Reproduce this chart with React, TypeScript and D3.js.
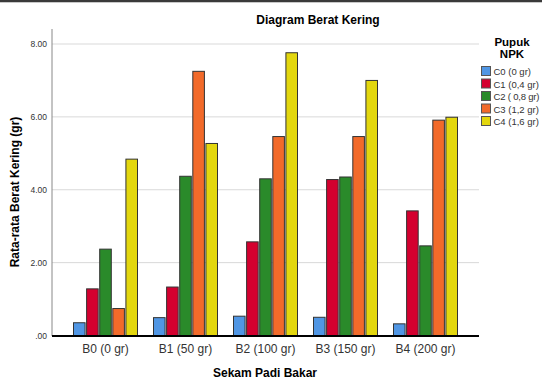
import React from "react";
import * as d3 from "d3";

const categories = ["B0 (0 gr)", "B1 (50 gr)", "B2 (100 gr)", "B3 (150 gr)", "B4 (200 gr)"];
const seriesNames = ["C0 (0 gr)", "C1 (0,4 gr)", "C2 ( 0,8 gr)", "C3 (1,2 gr)", "C4 (1,6 gr)"];
const C0 = [0.35, 0.49, 0.53, 0.5, 0.32];
const C1 = [1.28, 1.33, 2.57, 4.28, 3.42];
const C2 = [2.37, 4.37, 4.3, 4.35, 2.46];
const C3 = [0.74, 7.25, 5.46, 5.46, 5.91];
const C4 = [4.84, 5.27, 7.76, 7.0, 5.99];
const seriesValues = [C0, C1, C2, C3, C4];
const colors = ["#5096e4", "#d4002f", "#2a8a2a", "#f26a2a", "#e3d70e"];
const yTicks = [0, 2, 4, 6, 8];
const tickLabels = [".00", "2.00", "4.00", "6.00", "8.00"];

const W = 542;
const H = 379;
const font = "'Liberation Sans', Arial, sans-serif";

export default function App() {
  const x0 = d3.scaleBand<string>().domain(categories).range([52, 479]).paddingInner(0.1875).paddingOuter(0.2625);
  const x1 = d3.scaleBand<string>().domain(seriesNames).range([0, x0.bandwidth()]).paddingInner(0.04);
  const y = d3.scaleLinear().domain([0, 8]).range([335.5, 44]);

  return (
    <svg width={W} height={H} style={{ position: "absolute", left: 0, top: 0, background: "#fff" }} fontFamily={font}>
      <rect x={0} y={0} width={W} height={H} fill="#fff" />
      <rect x={0} y={0} width={W} height={2} fill="#3a3a3a" />
      <rect x={0} y={2} width={W} height={1} fill="#c8c8c8" />
      <text x={318} y={24} textAnchor="middle" fontSize={12} fontWeight="bold" fill="#000">Diagram Berat Kering</text>
      {yTicks.map((t, i) => (
        <g key={t}>
          {t > 0 && <line x1={52} x2={479} y1={y(t)} y2={y(t)} stroke="#d9d9d9" strokeWidth={1} />}
          <text x={47} y={y(t) + 3} textAnchor="end" fontSize={8.5} fill="#333">{tickLabels[i]}</text>
        </g>
      ))}
      <line x1={52} x2={52} y1={29} y2={336} stroke="#888" strokeWidth={1} />
      {categories.map((c, ci) => (
        <g key={c} transform={`translate(${x0(c)},0)`}>
          {seriesNames.map((s, si) => {
            const v = seriesValues[si][ci];
            return (
              <rect key={s} x={(x1(s) as number) + 0.5} y={y(v)} width={x1.bandwidth() - 1} height={y(0) - y(v)}
                fill={colors[si]} stroke="#333" strokeWidth={1} />
            );
          })}
          <text x={x0.bandwidth() / 2} y={353} textAnchor="middle" fontSize={12} fill="#333">{c}</text>
        </g>
      ))}
      <line x1={52} x2={479} y1={336} y2={336} stroke="#000" strokeWidth={2} />
      <text x={265} y={377} textAnchor="middle" fontSize={12} fontWeight="bold" fill="#000">Sekam Padi Bakar</text>
      <text transform={`translate(19,192) rotate(-90)`} textAnchor="middle" fontSize={12} fontWeight="bold" fill="#000">Rata-rata Berat Kering (gr)</text>
      <text x={512} y={45.5} textAnchor="middle" fontSize={11.5} fontWeight="bold" fill="#000">Pupuk</text>
      <text x={512} y={57.5} textAnchor="middle" fontSize={11.5} fontWeight="bold" fill="#000">NPK</text>
      {seriesNames.map((s, i) => (
        <g key={s} transform={`translate(481.5,${66.5 + i * 12.5})`}>
          <rect x={0} y={0} width={9} height={9} fill={colors[i]} stroke="#555" strokeWidth={1} />
          <text x={12} y={8.5} fontSize={9.5} fill="#333" textLength={s.length > 11 ? 46 : undefined}>{s}</text>
        </g>
      ))}
    </svg>
  );
}
